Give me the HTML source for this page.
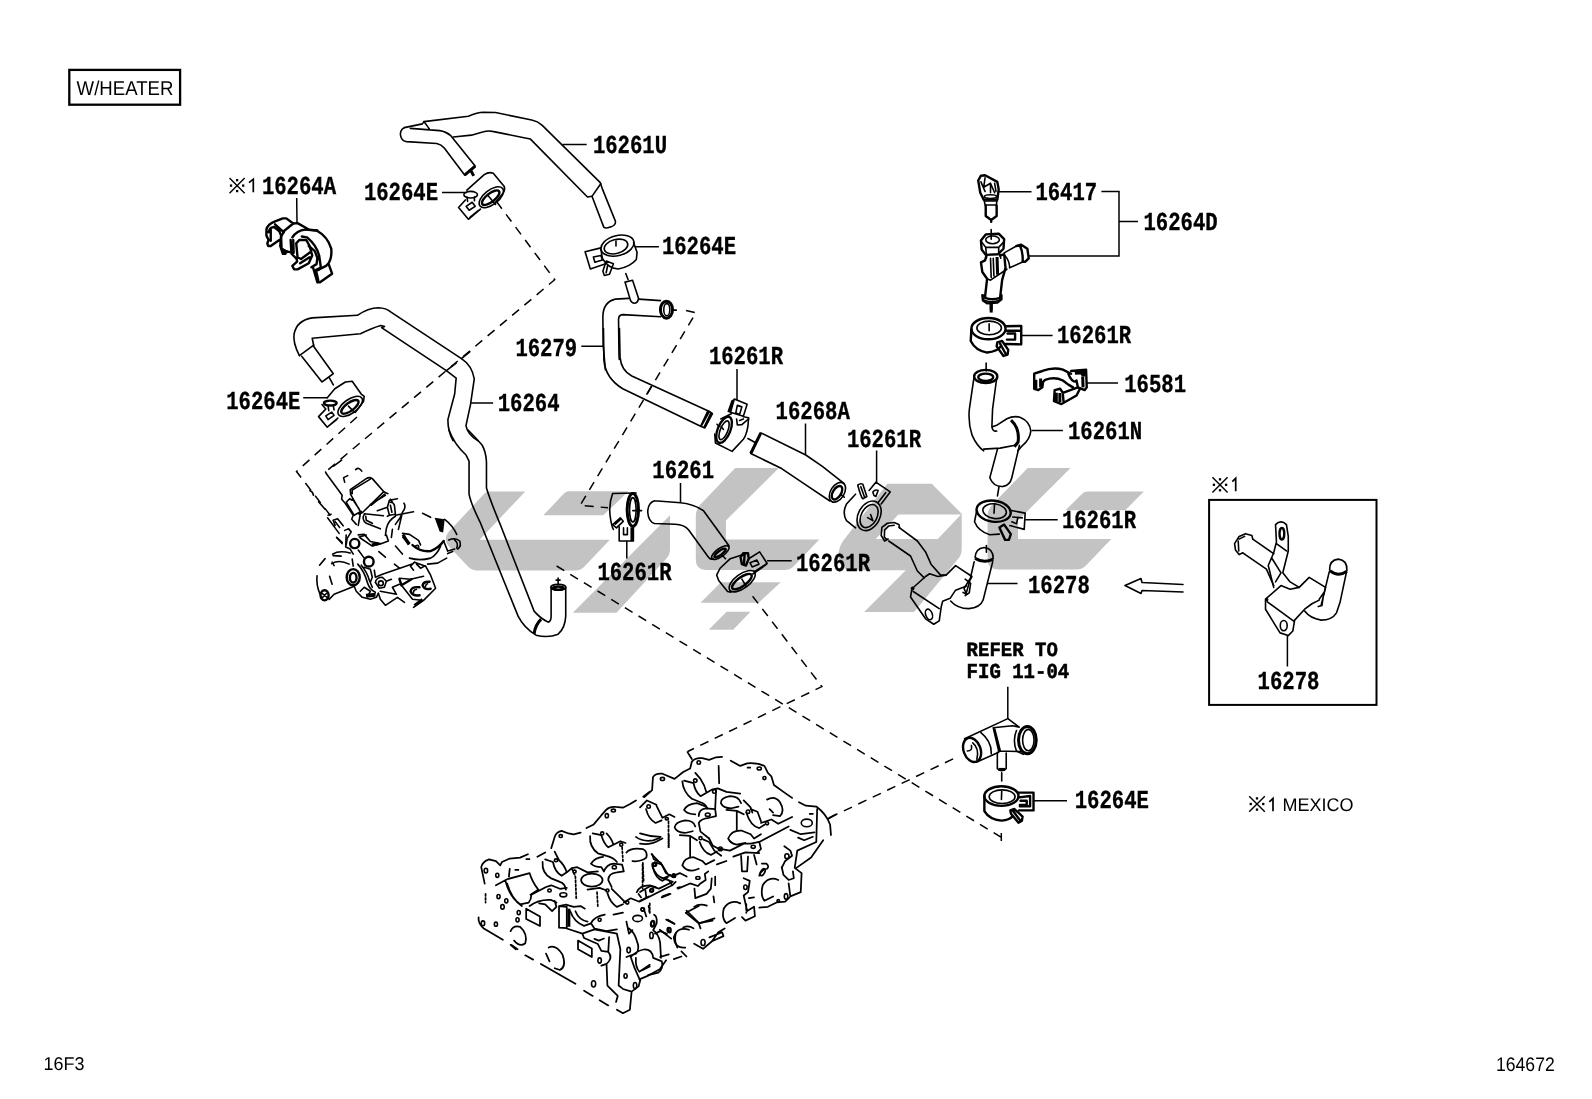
<!DOCTYPE html>
<html>
<head>
<meta charset="utf-8">
<title>16F3 - 164672</title>
<style>
html,body{margin:0;padding:0;background:#fff;}
body{width:1592px;height:1099px;overflow:hidden;font-family:"Liberation Sans",sans-serif;}
svg{display:block;position:absolute;left:0;top:0;will-change:transform;}
svg text{text-rendering:geometricPrecision;}
.wm{fill:#c3c3c3;stroke:none;}
.ln{fill:none;stroke:#000;stroke-width:1.6;stroke-linecap:round;stroke-linejoin:round;}
.lw{fill:#fff;stroke:#000;stroke-width:1.6;stroke-linecap:round;stroke-linejoin:round;}
.th{fill:none;stroke:#000;stroke-width:2.4;stroke-linecap:round;stroke-linejoin:round;}
.ds{fill:none;stroke:#000;stroke-width:1.5;stroke-dasharray:9 7;}
.ld{fill:none;stroke:#000;stroke-width:1.5;}
.ln,.lw,.th,.ds,.ld,.tk{vector-effect:non-scaling-stroke;}
.tk{fill:none;stroke:#000;stroke-width:3;stroke-linecap:butt;stroke-linejoin:round;}
.hd{fill:none;stroke:#000;stroke-width:1.75;stroke-linecap:round;stroke-linejoin:round;vector-effect:non-scaling-stroke;}
.hl{fill:none;stroke:#000;stroke-width:1.6;vector-effect:non-scaling-stroke;}
.pn{font-family:"Liberation Mono",monospace;font-weight:bold;font-size:20.6px;fill:#000;stroke:#000;stroke-width:0.3px;}
.rf{font-family:"Liberation Mono",monospace;font-weight:bold;font-size:19px;fill:#000;stroke:#000;stroke-width:0.5px;}
.ss{font-family:"Liberation Sans",sans-serif;fill:#000;}
</style>
</head>
<body>
<svg width="1592" height="1099" viewBox="0 0 1592 1099">
<rect x="0" y="0" width="1592" height="1099" fill="#fff"/>

<!-- ===== WATERMARK ===== -->
<g class="wm" id="wm">
<!-- shape 1: left chevron with band -->
<path d="M488,491.4 L525.3,491.4 L479.6,539.8 L609.9,539.8 L584,567 Q580.5,570.6 575,570.6 L477,570.6 Q472,570.6 468,566.5 L449.5,547 Q442,539 449.5,531 L484,494 Q486,491.4 488,491.4 Z"/>
<!-- shape 2a: top parallelogram -->
<path d="M569,491.3 L628.5,491.3 L603.3,515.3 L543.3,515.3 L564,493.5 Q566,491.3 569,491.3 Z"/>
<!-- shape 2b: diagonal stroke -->
<path d="M670,515.3 L670,549 Q670,555 666,559 L616.5,612.8 L572.8,612.8 Z"/>
<!-- shape 3 -->
<path d="M735.2,468 L778.8,468 L725.9,520.5 L725.9,539.6 L819.3,539.6 L794,566 Q790,569.9 785,569.9 L706,569.9 Q695.8,569.9 695.8,560 L695.8,516 Q695.8,509.6 700,505 Z"/>
<path d="M721,582.2 L780.8,582.2 L758.6,602.7 L700.5,602.7 Z"/>
<path d="M726.7,611.7 L750.4,611.7 L733.2,629.7 L708.7,629.7 Z"/>
<!-- shape 4: nine -->
<path fill-rule="evenodd" d="M887.3,483.7 L931.7,483.7 L961.7,513.7 L961.7,549 Q961.7,555 958,559 L914,612 L864.1,612 L905.8,570.3 L851,570.3 Q843,570.3 840,563 Q836,552 843,541 Z M898.3,514.4 L961,514.4 L937.8,538.9 L875.7,538.9 Z"/>
<!-- shape 5 -->
<path d="M1027.7,468 L1070.6,468 L1018,520.5 L1018,539.1 L1111.3,539.1 L1086,565.5 Q1082,569.5 1077,569.5 L998,569.5 Q987.6,569.5 987.6,559 L987.6,516 Q987.6,509.4 992,505 Z"/>
<path d="M1087,491.5 L1143.8,491.5 L1125.4,510.2 L1065.6,510.2 L1083,493 Q1084.5,491.5 1087,491.5 Z"/>
</g>

<!-- ===== DASHED LINES ===== -->
<g id="dashes">
<path class="ds" d="M496.5,201.5 L554.7,279.7 L326,471.5"/>
<path class="ds" d="M357,417 L296.5,471.5 L340,528"/>
<path class="ds" d="M686,310.5 L696,312.7 L580,505.5 L608,507.7"/>
<path class="ds" d="M556.6,566 L1001.3,837.4 M1001.3,833 L1001.3,841"/>
<path class="ds" d="M752.6,596.2 L821.9,686.6 L687.7,751.5"/>
<path class="ds" d="M829.4,817.8 L956.1,757.5"/>
</g>

<!-- ===== PARTS ===== -->
<g id="parts">
<!-- Z1: origin (390,105) scale 6.633 : hose 16261U + clamp -->
<g transform="translate(390,105) scale(0.15075)">
<path class="ln" d="M95,150 L215,125 L225,110 L520,75 Q580,48 620,48 L700,50 L940,100 Q980,108 1010,135 L1395,515 L1410,560 L1495,770 Q1500,800 1460,810 Q1430,822 1418,810 L1340,605 L1310,610 L930,225 L680,175 Q650,168 620,178 L540,200 L420,212"/>
<path class="ln" d="M1398,522 L1342,603"/>
<path class="ln" d="M95,150 Q60,170 72,210 Q80,240 110,243 L310,255 Q340,262 360,285 L495,465 L565,405 L405,205 Q370,175 330,170 L135,155 M225,110 L262,160"/>
<path class="tk" d="M495,465 L565,405 M535,432 L555,470"/>
<!-- clamp -->
<path class="ln" d="M510,565 L625,462 Q655,442 685,452 L758,540 Q765,560 750,585 L700,645"/>
<ellipse class="ln" cx="672" cy="612" rx="95" ry="48" transform="rotate(-38 672 612)"/>
<ellipse class="th" cx="668" cy="615" rx="70" ry="28" transform="rotate(-38 668 615)"/>
<path class="ln" d="M500,630 L455,680 L520,758 L600,690 M505,672 L545,645 L565,672 L525,698 Z M530,745 L585,700"/>
<ellipse class="ln" cx="535" cy="595" rx="45" ry="22"/>
<path class="ln" d="M510,610 L515,640 M560,610 L560,635 M650,600 L700,660"/>
</g>
<!-- Z2: origin (570,220) scale 6.633 : clamp 16264E #2 + top of 16279 -->
<g transform="translate(570,220) scale(0.15075)">
<ellipse class="ln" cx="315" cy="170" rx="112" ry="66" transform="rotate(-15 315 170)"/>
<ellipse class="ln" cx="305" cy="176" rx="80" ry="46" transform="rotate(-15 305 176)"/>
<path class="ln" d="M205,195 L215,255 Q250,320 320,325 Q400,310 440,262 L445,215 L422,150 M305,140 L305,172"/>
<path class="ln" d="M205,185 L100,210 L135,325 L232,292 M155,245 L205,235 L215,265 L165,280 Z"/>
<path class="ln" d="M240,272 L288,290 L262,360 L228,368 L218,340 Z M250,300 L240,350"/>
<path class="ln" d="M370,355 L385,395"/>
<path class="ln" d="M365,412 L415,400 L455,520 Q450,552 425,552 Q405,548 400,530 Z"/>
<path class="ln" d="M390,520 L300,525 Q220,545 218,640 L220,830 L235,995 M327,925 L325,900 L322,660 Q322,630 350,628 L600,642 M455,525 L600,535"/>
<ellipse class="tk" cx="640" cy="595" rx="40" ry="56"/>
<ellipse class="ln" cx="642" cy="595" rx="20" ry="40"/>
<path class="ln" d="M680,598 L705,598"/>
</g>
<!-- Z3: origin (570,330) : lower 16279 + clamp 16261R + start 16268A -->
<g transform="translate(570,330) scale(0.15075)">
<path class="ln" d="M222,-10 L225,200 Q235,320 350,390 L870,640 M328,-10 L332,180 Q340,270 410,305 L925,540 L945,555 L895,650 L870,640 M925,540 L870,640 M912,542 L868,636 M935,550 L888,648 M540,375 L510,425"/>
<ellipse class="th" cx="1022" cy="662" rx="42" ry="92" transform="rotate(22 1022 662)"/>
<ellipse class="ln" cx="1022" cy="665" rx="25" ry="66" transform="rotate(22 1022 665)"/>
<path class="ln" d="M1000,590 L1070,555 M1150,575 L1185,582 L1180,640 Q1170,700 1150,725 L1075,805 L965,750 L960,690"/>
<path class="ln" d="M1090,458 L1175,492 L1150,572 L1065,545 Z M1110,500 L1140,510 L1125,560 L1100,550 Z M1075,470 L1050,540 M1083,464 L1058,543"/>
<path class="ln" d="M1105,590 L1110,630 L1140,628 L1185,590 M1125,600 L1150,590"/>
<path class="ln" d="M1180,720 L1225,745"/>
<path class="ln" d="M1002,640 L1018,660 M975,625 L990,640"/>
</g>
<!-- Z4: origin (750,400) : hose 16268A + clamp 16261R -->
<g transform="translate(750,400) scale(0.15075)">
<path class="ln" d="M72,218 L370,365 L480,440 L625,555 M5,355 L210,455 L380,570 L530,670"/>
<path class="tk" d="M72,218 L5,355"/>
<ellipse class="ln" cx="580" cy="612" rx="45" ry="72" transform="rotate(32 580 612)"/>
<ellipse class="th" cx="577" cy="615" rx="27" ry="50" transform="rotate(32 577 615)"/>
<path class="ln" d="M600,625 L625,645"/>
<ellipse class="ln" cx="790" cy="768" rx="72" ry="104" transform="rotate(28 790 768)"/>
<ellipse class="ln" cx="790" cy="770" rx="52" ry="82" transform="rotate(28 790 770)"/>
<path class="ln" d="M700,625 L640,690 Q610,750 640,800 L700,848 M780,780 L815,800 M800,760 L815,800"/>
<path class="ln" d="M790,600 L835,545 L930,610 L870,690 M815,610 Q830,590 850,600 L835,640 Q820,640 815,610 M900,615 L850,680"/>
<path class="ln" d="M715,565 Q730,550 748,558 L775,640 L748,655 Q735,640 715,565 Z M735,575 L760,645"/>
</g>
<!-- Z5: origin (270,290) s6.633 : upper 16264 hose + clamp 16264E left -->
<g transform="translate(270,290) scale(0.15075)">
<path class="ln" d="M195,435 Q150,350 160,290 Q180,200 280,185 L580,168 Q650,120 720,118 Q770,120 800,145 L1270,455 Q1340,500 1355,590 L1330,760 L1300,900 Q1310,960 1380,1000"/>
<path class="ln" d="M290,370 L280,320 L600,290 Q680,250 735,235 L760,242 L740,250 L1170,535 L1235,585 L1225,690 L1180,860 Q1180,940 1215,1000"/>
<path class="ln" d="M195,435 L290,365 M210,440 L345,610 L420,555 L290,375 M355,603 L412,562 M395,585 L420,630"/>
<path class="ln" d="M1270,455 L1325,410 M1170,535 L1235,485"/>
<path class="ln" d="M380,715 L430,655 L500,610 L545,605 L605,690 L625,705 L620,740 L565,812"/>
<ellipse class="ln" cx="532" cy="772" rx="95" ry="46" transform="rotate(-36 532 772)"/>
<ellipse class="th" cx="530" cy="775" rx="68" ry="27" transform="rotate(-36 530 775)"/>
<ellipse class="th" cx="400" cy="750" rx="42" ry="16"/>
<path class="ln" d="M385,768 L390,800 M420,768 L425,795 M345,760 L370,790 M365,795 L322,840 L380,910 L450,850 M370,835 L410,810 L425,832 L385,860 Z M392,900 L442,860 M520,770 L560,810"/>
</g>
<!-- Z6: origin (400,430) s4.996 : lower 16264 hose -->
<g transform="translate(400,430) scale(0.20016)">
<path class="ln" d="M245,0 Q270,70 330,125 L345,155 L345,320 Q355,370 400,460 L590,930 Q620,990 680,1025 Q740,1040 790,1020 Q825,990 828,930 L828,785"/>
<path class="ln" d="M340,0 Q380,40 410,75 Q430,110 432,160 L432,290 Q450,350 500,470 L670,905 Q700,940 740,960 Q755,955 755,930 L755,785"/>
<ellipse class="ln" cx="791" cy="785" rx="37" ry="14"/>
<ellipse class="th" cx="791" cy="790" rx="26" ry="8"/>
<path class="tk" d="M705,945 Q675,975 670,1018"/>
<path class="ln" d="M790,740 L790,772 M780,750 L800,750"/>
</g>
<!-- Z6b: origin (540,470) s9.156 : clamp 16261R left-mid -->
<g transform="translate(540,470) scale(0.10922)">
<path class="ln" d="M880,210 L665,215 Q625,320 645,440 Q655,510 672,545"/>
<ellipse class="tk" cx="850" cy="365" rx="52" ry="150"/>
<ellipse class="ln" cx="850" cy="365" rx="30" ry="112"/>
<path class="ln" d="M850,372 L930,372 M665,500 L735,438 L762,470 L700,530 Z M690,495 L735,455"/>
<path class="ln" d="M725,520 L725,650 L855,650 L855,520 M765,530 L765,592 L800,592 L800,530"/>
<path d="M828,525 L858,525 L858,652 L828,652 Z" fill="#000"/>
</g>
<!-- P1: origin (310,455) s9.95 : pump top -->
<g transform="translate(310,455) scale(0.1005)">
<path class="ln" d="M155,170 L165,190 L320,400 L315,440 L350,480 L430,600 L415,640 L460,690"/>
<path class="ln" d="M235,110 L315,52 M455,145 Q485,115 515,160 M335,225 L375,205 M335,230 L345,270 M85,465 L150,540 M0,355 Q25,360 35,400"/>
<path class="ln" d="M405,395 L400,345 L560,235 Q590,215 620,235 L735,365 L775,385 M420,385 L420,350 L600,240 M735,365 L525,570 L490,590 M745,390 L610,500 M750,402 L600,492 M405,395 L500,560 M395,435 L360,470 L440,600 L510,560 M425,440 L490,540 M395,435 L420,450"/>
<path class="ln" d="M500,590 L480,700 M540,590 Q510,640 560,680 L700,735 M555,610 L560,650 L620,680 M540,585 L730,605"/>
<path class="ln" d="M670,555 L770,520 L790,450 L870,435 M800,440 L820,470 M770,520 L790,600 L850,590 L840,500 Q830,470 800,470 M790,600 L770,610 M800,500 L815,570"/>
<path class="ln" d="M935,480 Q960,520 920,570 L880,740 M850,600 L1030,565 M920,570 L900,620 L850,690 M760,730 Q780,650 850,610 M750,800 L760,730 M820,740 L810,820 M1120,580 L1200,620 M1340,640 Q1420,700 1460,790"/>
<path d="M1240,625 L1340,640 L1325,772 L1290,762 Z" fill="#000"/>
<path class="ln" d="M180,600 L210,590 M175,625 L290,780 M230,650 L275,635 L330,705 M230,650 L250,700 M345,750 L385,735 L410,765 L370,830 L360,895 M265,820 L320,870"/>
<path class="ln" d="M480,795 L540,790 L600,860 M600,860 L700,880 M920,780 L990,790 L1080,850 L1100,895"/>
<path class="tk" d="M925,792 L985,890"/>
</g>
<!-- P2: origin (310,535) s9.95 : pump bottom -->
<g transform="translate(310,535) scale(0.1005)">
<circle class="th" cx="445" cy="85" r="46"/>
<path class="ln" d="M360,0 L355,120 L400,140 M490,20 L560,0 M500,30 L620,110 L700,90 L780,60 L760,0 M265,25 L320,85 M400,140 L430,190 M480,150 L540,230"/>
<path class="tk" d="M615,100 L680,85"/>
<circle class="th" cx="585" cy="265" r="48"/>
<path class="ln" d="M225,190 Q290,150 400,180 M230,205 L310,210 M215,285 Q290,240 390,290 M220,270 L240,305 M95,300 L150,235 M420,240 L430,310 M70,405 Q60,500 100,590 M195,410 L220,490"/>
<ellipse class="th" cx="430" cy="420" rx="65" ry="80"/>
<ellipse class="th" cx="430" cy="425" rx="33" ry="48"/>
<ellipse class="th" cx="145" cy="600" rx="40" ry="50"/>
<path class="ln" d="M120,580 L170,620 M125,620 L165,580 M190,640 L240,590 L440,510"/>
<path class="ln" d="M475,290 Q540,360 570,470 Q590,540 650,570 M510,300 Q570,370 590,450 L620,520 M540,320 L600,340 L620,420 L600,470 M640,350 L650,420 L720,390 L1010,290"/>
<path class="ln" d="M650,470 Q660,420 720,420 L760,460 L740,520 L690,530 Z M760,460 L810,440"/>
<circle class="ln" cx="705" cy="480" r="24"/>
<path class="ln" d="M440,510 L460,560 L520,620 L600,640 L660,620 L680,580 M500,560 L540,520 L600,560 L580,600"/>
<path d="M555,585 L655,575 L650,615 L560,625 Z" fill="#000"/>
<path class="ln" d="M680,580 L700,640 L750,700 L870,620 L940,670 M700,560 L860,590 L820,520 L890,490 M890,430 L1000,440 L1130,410"/>
<path class="th" d="M890,440 L910,500 L1010,440"/>
<path class="ln" d="M910,500 L1020,640 L1110,650 M1030,720 L1130,650 L1250,530 L1200,400 L1150,310"/>
<path class="tk" d="M1040,702 L1120,642"/>
<path class="th" d="M1090,520 Q1010,510 1000,560 Q1020,610 1090,600 M1190,465 Q1130,460 1120,500 Q1140,550 1200,535"/>
<path class="ln" d="M1060,540 Q1030,545 1030,570 M1170,485 Q1150,490 1150,510"/>
<path class="tk" d="M925,12 L990,90"/>
<path class="th" d="M1020,100 Q1100,170 1200,160 Q1280,130 1330,60"/>
<path class="ln" d="M1050,110 Q1090,90 1080,130 M990,230 Q1100,260 1200,230 Q1260,200 1300,110"/>
<path class="ln" d="M1330,60 L1370,160 L1440,140 M1380,50 Q1450,20 1490,60 Q1510,110 1470,140 M1440,50 Q1480,80 1460,130 M1370,185 L1420,165"/>
<path class="ln" d="M1150,310 L1040,270 L1000,310 L1030,350 M1060,290 L1100,330 L1140,310 M1170,290 L1270,280 L1360,230 M850,110 L920,190 M685,165 L750,220 M840,290 L890,330"/>
</g>
<!-- Z8: origin (940,160) s7.325 : 16417 + 16264D -->
<g transform="translate(940,160) scale(0.13652)">
<path class="th" d="M280,150 L300,115 L330,112 L420,160 L430,215 L420,290 L320,290 L295,240 Z"/>
<path class="ln" d="M330,130 L320,200 L370,170 L400,240 M370,170 L370,240 M300,160 L330,230 M400,170 L410,230 M325,300 L420,300 M330,330 L415,330 M322,292 L332,335 M418,292 L412,335"/>
<ellipse class="ln" cx="370" cy="268" rx="45" ry="14"/>
<path class="th" d="M335,335 L335,410 L375,440 L415,410 L415,335 M375,440 L375,452"/>
<path class="ln" d="M375,510 L375,580"/>
<path class="th" d="M300,590 L335,545 L430,540 L470,580 L465,650 L425,690 L335,695 L305,655 Z"/>
<ellipse class="ln" cx="385" cy="585" rx="50" ry="28"/>
<path class="ln" d="M335,640 L340,695 M430,640 L430,690 M305,600 L335,640 L430,640 L468,600 M340,695 L340,720 M440,690 L445,720"/>
<path class="th" d="M340,700 L330,735 L300,750 L310,820 L345,870 L330,1000 M440,700 L470,690 L480,790 L455,880 L440,1010"/>
<path class="ln" d="M370,720 L375,860 M345,870 L370,880 L490,800 M390,720 L395,850"/>
<path class="tk" d="M418,710 L422,840"/>
<path class="ln" d="M470,680 L560,630 M510,790 L610,745 M475,700 Q510,740 510,790"/>
<path class="th" d="M560,630 L595,620 L640,650 L650,720 L625,745 L610,745 M585,625 Q610,680 605,745"/>
<path class="th" d="M330,1000 L310,990 L315,1030 L345,1050 L420,1045 L450,1020 L450,990 L440,1010 M330,1010 Q380,1030 440,1010"/>
<path class="tk" d="M375,1050 L375,1100"/>
</g>
<!-- Z9: origin (940,300) s7.325 : clamp 16261R + 16261N top + 16581 -->
<g transform="translate(940,300) scale(0.13652)">
<path class="tk" d="M375,15 L375,92"/>
<path class="ln" d="M320,0 Q375,25 440,0"/>
<ellipse class="th" cx="355" cy="210" rx="125" ry="78"/>
<ellipse class="ln" cx="360" cy="205" rx="90" ry="50"/>
<path class="ln" d="M360,175 L360,225"/>
<path class="th" d="M230,215 L225,300 Q260,370 345,385 Q420,375 440,345"/>
<path class="th" d="M485,192 L595,190 L595,325 L480,322 M490,225 L580,225 M495,245 L550,245 L550,290 L490,290"/>
<path class="th" d="M420,310 L455,300 L500,365 L495,400 L465,410 L415,340 Z M440,320 L480,392"/>
<path class="ln" d="M338,462 L338,520"/>
<ellipse class="th" cx="335" cy="560" rx="85" ry="48"/>
<ellipse class="th" cx="335" cy="566" rx="55" ry="27"/>
<path class="ln" d="M250,560 L215,800 Q205,900 235,990 Q270,1070 320,1105 M415,575 L385,800 L380,930 Q385,965 415,960 M380,930 L420,915 L490,870 Q540,845 590,860 Q660,890 665,960 Q660,1020 600,1070 L570,1105"/>
<path class="tk" d="M520,880 Q585,940 572,1040 L545,1075"/>
<path class="ln" d="M320,1092 L440,1085 L560,1062"/>
<!-- 16581 -->
<path class="th" d="M690,540 L750,520 Q830,490 900,510 L960,540 M690,540 L690,650 L720,660 L750,640 L755,600 L770,585 Q840,560 900,590 L940,620 L975,640"/>
<path class="tk" d="M702,585 L702,650 M737,575 L737,640"/>
<path class="th" d="M960,520 L1070,510 L1075,640 L1060,660 L1010,640 L1000,590 M940,540 Q960,600 1000,600"/>
<path d="M985,518 L1065,512 L1066,560 L1040,560 L1030,545 L990,548 Z" fill="#000"/>
<path class="tk" d="M1045,560 L1048,640"/>
<path class="th" d="M840,660 L835,740 L890,762 L1000,700 L1025,650 M840,660 L880,650 L900,680 L1010,640 M900,690 L905,742"/>
<path class="tk" d="M852,680 L852,742 M878,682 L878,748"/>
</g>
<!-- Z10: origin (900,430) s5.233 : 16261N bottom + clamp 16261R + 16278 right tube -->
<g transform="translate(900,430) scale(0.19109)">
<path class="ln" d="M510,100 L470,250 Q490,300 540,295 Q575,290 585,250 L625,80 M518,298 L510,345"/>
<ellipse class="th" cx="490" cy="425" rx="90" ry="55" transform="rotate(8 490 425)"/>
<ellipse class="ln" cx="495" cy="425" rx="62" ry="38" transform="rotate(8 495 425)"/>
<path class="ln" d="M495,385 L492,435"/>
<path class="ln" d="M400,430 L390,480 Q410,530 470,548 L520,545"/>
<path class="ln" d="M575,420 L655,435 L650,520 L575,500 M590,455 L640,460 M585,480 L610,490 L615,465"/>
<path class="th" d="M520,510 L545,495 L580,545 L570,575 L550,575 Z"/>
<path class="ln" d="M452,605 L452,640"/>
<path class="ln" d="M393,668 Q395,620 440,615 Q488,620 488,672"/>
<path class="tk" d="M393,672 Q440,700 488,676"/>
<path class="ln" d="M388,690 L365,790 L345,860 M485,690 L455,810 L435,890 Q420,930 360,935 Q300,935 265,895 M365,780 L335,830 L350,860 L330,850"/>
</g>
<!-- Z11: origin (830,470) s7.325 : 16278 left tube + bracket -->
<g transform="translate(830,470) scale(0.13652)">
<path class="ln" d="M380,420 L420,390 L470,385 L505,400 L510,425 M380,420 L375,480 L400,520 L425,505 M400,440 L430,410 L470,405 M400,440 L398,490 L415,510"/>
<path class="ln" d="M505,420 L640,520 L700,600 L740,690 L810,770 L850,770 M430,520 L590,630 L640,740 L690,790"/>
<circle cx="605" cy="868" r="14" fill="#000"/>
<path class="ln" d="M600,870 L700,780 L730,760 L790,780 L850,770 L920,700 L1040,780 L1030,800 M600,870 L590,930 L700,1090 L760,1130 L800,1105 L815,1000 L825,962 L880,940 L920,880 L1000,850 M610,890 L800,1015 M990,800 L1030,830 L1020,900 L990,920"/>
<ellipse class="ln" cx="725" cy="1058" rx="24" ry="40" transform="rotate(-20 725 1058)"/>
</g>
<!-- Z12: origin (250,195) s11.57 : clip 16264A -->
<g transform="translate(250,195) scale(0.08643)">
<path class="th" d="M190,400 Q200,340 290,305 L380,270 L420,270 L500,330 L390,420 M290,340 L380,420 L390,430 M190,400 L190,470 L215,520 L200,560 L210,590 L240,590 L340,520 M215,430 Q230,370 280,370 L340,420 L360,470 L350,590 L380,680 L410,680 M240,400 L240,530"/>
<path class="th" d="M500,330 L550,325 L680,400 L780,410 M390,430 L360,480 L365,620 L380,640 L460,660"/>
<path d="M365,605 L462,660 L385,695 Z" fill="#000"/>
<path class="th" d="M490,490 Q540,410 640,400 M470,520 L480,680 L540,740 L545,770 L490,820 L510,860 L550,860 L680,790 L720,700 L690,590 L650,520 L570,520 L535,560 L550,720 L590,740 L700,660 M500,520 L505,670 M580,790 L690,720"/>
<path class="th" d="M640,400 L770,410 Q900,480 940,620 Q950,740 900,800 L880,820 L800,860 M600,480 L660,490 Q770,580 800,700 L820,840 L760,870 M680,590 L750,650 L780,730 L770,800 L710,835"/>
<path class="th" d="M730,840 L780,1010 L810,1010 L950,910 L910,800 M760,880 L800,860 M790,990 L770,900"/>
</g>
<!-- Z13: origin (630,470) s7.328 : hose 16261 + clamp 16261R lower -->
<g transform="translate(630,470) scale(0.13646)">
<path class="ln" d="M180,225 Q130,240 130,310 Q135,380 180,392 L330,398 Q400,400 430,440 L575,640 Q590,660 610,650 M180,225 L370,240 Q470,250 540,300 L725,555"/>
<ellipse class="ln" cx="662" cy="605" rx="76" ry="30" transform="rotate(-36 662 605)"/>
<ellipse class="th" cx="660" cy="608" rx="50" ry="15" transform="rotate(-36 660 608)"/>
<path class="ln" d="M675,625 L700,650"/>
<path class="ln" d="M830,620 L735,650 L660,720 L635,770 L650,810 L715,890 L740,895"/>
<ellipse class="ln" cx="822" cy="815" rx="112" ry="52" transform="rotate(-36 822 815)"/>
<ellipse class="th" cx="820" cy="818" rx="86" ry="32" transform="rotate(-36 820 818)"/>
<path class="th" d="M810,640 L830,610 L865,610 L870,650 L850,700 L820,690 Z M840,620 L835,690"/>
<path class="ln" d="M870,650 L950,600 L1005,685 L920,740 L905,740 M880,680 L930,660 L945,690 L895,710 Z M1000,692 L900,762 M820,800 L850,850"/>
</g>
<!-- Z14: origin (940,680) s7.325 : refer fitting + clamp 16264E bottom -->
<g transform="translate(940,680) scale(0.13652)">
<path class="ln" d="M180,430 L497,283 L580,345 M270,600 L430,530 M390,350 L530,335 L580,345 M390,350 L430,520 L600,525 M400,355 L442,520 M300,385 Q380,450 375,540"/>
<ellipse class="th" cx="235" cy="512" rx="62" ry="92" transform="rotate(-20 235 512)"/>
<path class="ln" d="M200,520 Q240,520 230,480 M240,460 Q290,500 270,580"/>
<ellipse class="tk" cx="640" cy="440" rx="65" ry="100"/>
<ellipse class="ln" cx="647" cy="440" rx="42" ry="78"/>
<path class="ln" d="M560,370 Q530,440 560,520 L610,545"/>
<path class="ln" d="M420,530 L420,650 Q450,680 485,650 L485,535 M452,680 L452,740"/>
<path class="tk" d="M428,655 L478,655"/>
<ellipse class="th" cx="450" cy="850" rx="125" ry="72"/>
<ellipse class="ln" cx="455" cy="855" rx="95" ry="50"/>
<path class="ln" d="M452,815 L450,875"/>
<path class="th" d="M325,850 L325,960 Q360,1020 450,1030 Q510,1025 530,1000"/>
<path class="th" d="M575,825 L685,825 L685,955 L580,955 M580,860 L660,850 L660,925 L585,925 M590,885 L635,885 L635,915 L585,915"/>
<path class="th" d="M515,955 L545,945 L605,1000 L600,1030 L575,1045 L520,980 Z M535,960 L590,1032"/>
</g>
<!-- Z15: origin (1210,500) s5.494 : boxed 16278 -->
<g transform="translate(1210,500) scale(0.18202)">
<path class="ln" d="M135,240 L160,200 L195,185 L230,195 L235,215 M135,240 L140,275 L160,300 L180,290 M160,215 L190,200 M155,225 L158,280"/>
<path class="ln" d="M235,215 L350,295 M180,290 L310,380 L350,470"/>
<path class="ln" d="M360,135 Q390,105 420,135 L430,200 L430,280 L400,400 L440,450 L490,480 M360,135 L365,230 L350,290 L320,360 L350,480 M365,240 L420,280 M340,320 L390,400 L360,450"/>
<ellipse class="th" cx="395" cy="185" rx="13" ry="32"/>
<path class="ln" d="M305,545 L390,470 L440,490 L490,480 L545,425 L635,480 L625,520 M305,545 L305,600 L360,690 L385,730 L430,745 L455,720 L465,660 L520,600 L560,570 L600,550 M315,560 L460,665"/>
<circle cx="312" cy="548" r="9" fill="#000"/>
<ellipse class="ln" cx="405" cy="690" rx="19" ry="28"/>
<path class="ln" d="M657,385 Q655,330 705,325 Q755,330 752,388"/>
<path class="tk" d="M658,388 Q705,425 752,392"/>
<path class="ln" d="M655,395 L625,520 L610,580 M750,395 L715,560 L695,620 Q670,660 610,660 Q550,650 520,610 M600,545 L625,510 L615,580 L595,585"/>
</g>
<!-- arrow -->
<path class="ln" d="M1125,585.5 L1141,578.5 L1142,582.5 L1183,584.5 M1125,585.5 L1141,593.5 L1142,590.5 L1183,592"/>
<!-- HA: origin (470,830) s5.786 : cylinder head left -->
<g transform="translate(470,830) scale(0.17283)">
<path class="hd" d="M85,310 L65,215 Q70,185 110,170 L150,180 L175,205 L185,185 L230,165 L290,160 L335,140 M390,155 L435,130 M470,105 L490,40 Q500,10 530,5 L570,20 L600,25 L640,15"/>
<path class="hd" d="M50,505 Q45,540 80,570 L190,635 M240,665 L275,690 M320,725 L365,750 M410,775 L610,890 M660,930 L710,960 M750,985 L800,1015 M850,1040 L885,1060 L925,1040 L935,935 L885,920 M935,935 L975,905 L985,870"/>
<path class="hd" stroke-dasharray="2 2" d="M90,370 L90,420 M590,225 L610,270 L615,400 M735,360 L740,450 M1000,190 L1005,300 M1150,30 L1150,100 M1040,425 L1040,480 M880,100 L885,180"/>
<path d="M322,164 h26 v9 h-26 Z M258,225 h26 v11 h-26 Z" fill="#000"/>
<path class="hd" d="M230,225 L225,270 M150,320 L215,285 L345,250 Q360,300 395,345 L350,375 M205,295 Q230,390 290,430 L340,420 Q355,400 355,375 M215,310 Q240,400 300,440 M345,440 Q400,400 470,405 L500,420 M355,375 L440,330 L470,320 L520,340 L560,335 M400,425 L435,430 L475,470 L500,445 L490,410"/>
<path class="hd" d="M515,440 L515,565 L560,568 L560,445 Z M580,470 Q600,530 660,555 L700,540 Q720,500 780,490 M610,470 Q630,520 680,530 M515,440 L555,432 L600,445 L640,440 L665,455 M560,570 L650,600 L660,625 L740,660 L760,700 L800,705 L805,620 M650,600 L720,575 L850,600 L870,690 L860,900 L880,915 M720,630 L745,640 L775,628 M800,705 Q830,740 790,775 L760,785 M790,775 L795,900 L855,960 L845,995"/>
<path class="tk" d="M572,455 L572,560"/>
<path class="hd" d="M325,455 L405,500 L405,555 L325,515 Z M625,640 L705,685 L705,735 L625,690 Z M235,585 Q250,550 290,560 Q335,600 320,655 Q290,680 255,640 M235,665 L265,690 M455,680 Q495,660 535,720 Q560,790 520,810 L490,800 M440,715 L460,760"/>
<path class="hd" d="M420,185 Q415,250 470,280 L520,300 Q550,310 555,345 M435,170 L480,185 Q490,240 530,265 L560,245 Q545,200 515,175 L490,125 M560,245 L590,220 L620,215 L680,245 L740,240"/>
<ellipse class="hd" cx="705" cy="290" rx="62" ry="38"/>
<path class="hd" d="M680,345 L750,335 L790,350 M695,35 Q690,100 740,135 L790,150 Q830,160 850,185 M710,20 L760,30 Q775,80 800,100 L830,85 Q820,50 790,20 M700,195 Q720,160 770,155 M700,195 Q720,215 760,215 L775,240 M775,240 Q790,200 830,195 L880,200 L890,240 L850,245 Q800,250 800,290 L820,330 M830,85 L870,65 L900,75"/>
<path class="hd" d="M905,130 Q930,100 1000,110 Q1030,125 1020,160 Q990,185 940,180 M960,40 Q1000,70 1060,60 L1100,45 M1050,140 L1090,180 M1055,210 Q1075,270 1120,280 L1160,260 M1070,185 L1110,200 L1140,250 M795,365 Q810,420 850,445 L885,430 M820,340 L860,380 L900,420 M965,360 Q980,320 1040,320 L1075,330 M975,370 L990,390 M1015,350 L1020,390 M890,420 L930,395 L980,415 L1170,320 L1150,290 M1170,320 L1190,300 M1110,390 L1160,370 M1200,335 L1215,330 M830,490 L885,478 M700,540 L720,570 L790,585 L850,575"/>
<path class="hd" d="M905,530 L920,600 L940,580 M920,570 Q950,590 965,640 Q985,690 960,715 L905,735 M1010,470 L1020,500 M1065,490 Q1085,500 1080,540 L1060,580 Q1090,600 1100,650 L1105,740 M1070,600 L1100,585 L1140,600 M1140,520 L1170,535 M930,735 Q960,700 1010,690 Q1055,690 1060,740 M930,735 Q950,800 975,850 L985,870 M960,740 Q955,790 980,820 L1040,780 M1060,740 L1110,760 Q1120,800 1090,825 L1030,840 M1000,810 L1040,790 M1100,735 L1150,720 M1190,600 Q1180,640 1200,680"/>
<ellipse class="hl" cx="92" cy="235" rx="10" ry="14"/>
<ellipse class="hl" cx="158" cy="262" rx="9" ry="12"/>
<ellipse class="hl" cx="165" cy="385" rx="9" ry="12"/>
<ellipse class="hl" cx="210" cy="410" rx="9" ry="12"/>
<ellipse class="hl" cx="188" cy="445" rx="10" ry="13"/>
<ellipse class="hl" cx="282" cy="478" rx="9" ry="12"/>
<ellipse class="hl" cx="275" cy="520" rx="9" ry="12"/>
<ellipse class="hl" cx="150" cy="545" rx="9" ry="12"/>
<ellipse class="hl" cx="75" cy="540" rx="10" ry="14"/>
<ellipse class="hl" cx="525" cy="35" rx="10" ry="8"/>
<ellipse class="hl" cx="498" cy="175" rx="10" ry="8"/>
<ellipse class="hl" cx="605" cy="240" rx="9" ry="8"/>
<ellipse class="hl" cx="460" cy="350" rx="10" ry="9"/>
<ellipse class="hl" cx="540" cy="375" rx="20" ry="12"/>
<ellipse class="hl" cx="835" cy="215" rx="12" ry="10"/>
<circle class="hl" cx="765" cy="20" r="9"/>
<circle class="hl" cx="875" cy="85" r="9"/>
<circle class="hl" cx="1070" cy="200" r="10"/>
<circle class="hl" cx="1180" cy="265" r="10"/>
<circle class="hl" cx="1050" cy="350" r="10"/>
<circle class="hl" cx="795" cy="350" r="9"/>
<circle class="hl" cx="910" cy="420" r="9"/>
<circle class="hl" cx="750" cy="520" r="9"/>
<circle class="hl" cx="1000" cy="460" r="10"/>
<ellipse class="hl" cx="970" cy="512" rx="28" ry="18"/>
<ellipse class="hl" cx="1055" cy="545" rx="10" ry="16"/>
<ellipse class="hl" cx="1050" cy="610" rx="10" ry="18"/>
<ellipse class="hl" cx="1155" cy="580" rx="8" ry="14"/>
<ellipse class="hl" cx="918" cy="695" rx="10" ry="16"/>
<ellipse class="hl" cx="750" cy="755" rx="10" ry="15"/>
<ellipse class="hl" cx="900" cy="845" rx="9" ry="13"/>
<ellipse class="hl" cx="955" cy="900" rx="10" ry="18"/>
<ellipse class="hl" cx="715" cy="890" rx="12" ry="18"/>
</g>
<!-- HB: origin (640,740) s5.786 : cylinder head right -->
<g transform="translate(640,740) scale(0.17283)">
<path class="hd" d="M25,330 L70,290 L75,215 Q90,190 130,195 L200,225 L250,185 L290,165 L300,125 Q320,100 360,105 L400,115 L440,100 L475,98 M275,70 L300,110 M525,120 L580,150 L620,135 Q680,130 720,150 L740,190 L760,210 L775,260 L830,300 L880,335 M920,360 L960,380 L1020,385 Q1080,430 1100,490 L1105,550 M1090,455 L1135,430 M1025,400 L1020,590 L910,640 L895,740 L935,770 L930,880 L870,905 L860,830 M1060,580 L990,680 L905,740"/>
<path d="M978,422 h26 v10 h-26 Z M618,155 h24 v10 h-24 Z" fill="#000"/>
<path class="hd" d="M455,150 L458,250 M245,240 Q250,300 300,340 L350,360 Q380,370 390,395 M255,235 L310,250 Q320,300 350,325 L385,305 Q375,260 350,225 L320,190 M385,305 L420,285 L450,280 L500,300 L580,310 M440,290 L435,400"/>
<path class="hd" d="M585,365 Q570,325 520,325 Q465,335 468,365 Q480,395 530,395 L570,385"/>
<path class="hd" d="M500,405 L560,410 L600,430 M560,415 L560,520 M255,405 Q270,370 330,365 L380,385 M255,405 Q275,430 320,430 M340,440 Q340,400 380,395 L435,400 L440,440 L400,450 Q350,455 340,480 L350,530 L400,570 M600,350 L640,390 L650,420 M615,420 Q640,500 690,510 L720,490 M640,400 L680,415 L700,470 M735,345 Q780,320 810,360 Q840,410 810,440 L770,435 M750,400 L770,420 M700,480 L760,460 L800,485 L880,445 M690,590 L860,500 M870,520 L930,545 L1010,535 M915,565 L950,580 L1000,560"/>
<path class="hd" d="M510,570 Q530,520 590,525 L640,545 M510,570 Q525,600 560,605 L610,595 M640,545 L660,570 L700,545 M400,570 L420,610 L465,635 M465,630 L520,640 L600,600 L640,600 L690,590 L700,630 L680,650 M540,675 L610,650 L690,655 M585,670 L590,760 L620,760 L625,675 M660,665 L675,720"/>
<path class="hd" d="M0,390 L40,350 L95,375 M35,400 Q50,460 90,480 L125,465 M95,380 L130,450 L170,430 L200,445 M230,550 L290,555 L330,580 M290,560 L290,680 M345,590 Q365,650 410,665 L445,645 M365,575 L400,590 L430,640 L470,670 M0,540 Q60,560 120,560 M0,600 Q60,610 110,580 L130,570"/>
<path class="hd" d="M320,500 Q310,465 260,465 Q205,475 200,505 Q210,535 260,538 L305,528"/>
<path class="hd" stroke-dasharray="2 2" d="M165,470 L165,620 M15,720 L15,860 M615,950 L615,1000 M50,960 L55,1000"/>
<path class="hd" d="M245,725 Q255,680 310,678 L360,700 M245,725 Q265,760 310,755 L340,745 M360,700 L380,720 L430,695 M445,720 L500,700 M220,860 L290,830 L335,845 L350,830 L380,810 L375,775 L395,760 M70,660 L80,690 L120,710 M75,740 Q90,800 130,815 L160,795 M120,710 L150,770 L185,790 L230,770 L270,790 M0,880 L60,845 L110,860 L190,820 L130,800 M130,905 L170,890 M0,930 L50,905 M315,860 L320,915 L385,890 L410,860 L415,800 M435,790 L435,840 M425,905 L430,940"/>
<path class="hd" d="M265,1000 L340,960 M265,1000 L340,1060 L420,1045 M340,1060 L350,1090 M160,1040 L200,1065 M250,1085 Q280,1070 310,1090 M580,945 Q520,920 485,975 Q470,1030 500,1060 L550,1030 M800,810 Q745,785 710,840 Q695,900 720,930 L770,905 M690,785 Q700,750 735,745 Q750,730 730,715 L705,715"/>
<ellipse class="hd" cx="710" cy="765" rx="11" ry="22" transform="rotate(30 710 765)"/>
<path class="hd" d="M600,800 L635,815 L625,880 L600,900 L620,990 L660,965 L665,1020 L610,1045 L590,1025 M630,915 L660,910 M690,970 L740,965 L790,940 L840,935 L865,910 M820,735 L830,780 L860,810 L890,800 L885,760 M835,615 L870,640 L880,670 L840,700 L820,740"/>
<ellipse class="hl" cx="130" cy="225" rx="12" ry="9"/>
<circle class="hl" cx="340" cy="130" r="10"/>
<circle class="hl" cx="320" cy="235" r="10"/>
<circle class="hl" cx="430" cy="298" r="10"/>
<ellipse class="hl" cx="690" cy="165" rx="12" ry="9"/>
<circle class="hl" cx="720" cy="220" r="9"/>
<circle class="hl" cx="50" cy="385" r="10"/>
<ellipse class="hl" cx="155" cy="455" rx="9" ry="7"/>
<ellipse class="hl" cx="392" cy="432" rx="14" ry="10"/>
<circle class="hl" cx="625" cy="415" r="10"/>
<circle class="hl" cx="735" cy="482" r="9"/>
<circle class="hl" cx="350" cy="568" r="9"/>
<circle class="hl" cx="465" cy="630" r="11"/>
<ellipse class="hl" cx="655" cy="618" rx="12" ry="9"/>
<ellipse class="hl" cx="850" cy="672" rx="12" ry="14"/>
<circle class="hl" cx="80" cy="720" r="10"/>
<circle class="hl" cx="195" cy="785" r="9"/>
<ellipse class="hl" cx="335" cy="798" rx="12" ry="8"/>
<circle class="hl" cx="70" cy="868" r="9"/>
<ellipse class="hl" cx="610" cy="852" rx="10" ry="13"/>
<ellipse class="hl" cx="845" cy="905" rx="10" ry="16"/>
<circle class="hl" cx="800" cy="930" r="7"/>
<circle class="hl" cx="15" cy="980" r="9"/>
<ellipse class="hl" cx="75" cy="1060" rx="10" ry="16"/>
<ellipse class="hl" cx="965" cy="480" rx="32" ry="22"/>
</g>
<!-- HC: origin (470,740) s3.926 : cylinder head lower front -->
<g transform="translate(470,740) scale(0.25471)">
<path class="hd" d="M860,745 Q815,730 800,775 Q805,820 845,815 M830,830 L850,850 M770,705 L800,720 M745,745 L790,780 M850,670 L900,720 L960,700 M880,655 Q900,640 930,650 M880,800 L915,820 L950,790 L975,755 L1000,740 M940,775 L990,755 L995,770 L950,790 M830,850 L800,860 M770,865 L745,900 L700,925 L665,940"/>
<ellipse class="hl" cx="915" cy="795" rx="8" ry="12"/>
<ellipse class="hl" cx="780" cy="745" rx="6" ry="9"/>
</g>
<!-- HD: origin (470,740) s6.87 : head upper-left outline -->
<g transform="translate(470,740) scale(0.14556)">
<path class="hd" d="M800,605 L850,580 L900,520 L935,480 Q960,455 1000,460 L1050,465 L1100,440 L1140,415"/>
<ellipse class="hl" cx="985" cy="485" rx="14" ry="10"/>
<ellipse class="hl" cx="940" cy="520" rx="11" ry="14"/>
<path class="hd" d="M1190,390 L1235,355"/>
</g>
<!--PARTS_END-->
</g>

<!-- ===== LEADERS ===== -->
<g id="leaders" class="ld">
<path d="M296.7,198 L297,223 M442,192.4 L467,192.4 M562.6,144.6 L586.7,144.6 M634.8,246.8 L658.9,246.8 M581.3,346.3 L603.2,346.3 M470.5,403.1 L493.1,403.1 M737,368.9 L737,400.1 M805.5,423.4 L805.5,455 M876.6,450.5 L876.6,482.2 M303.2,397.8 L327.3,397.8 M680.5,483 L680.5,502.7 M626.8,541 L626.8,558.5 M767.1,560.7 L791.7,560.7 M998.7,191.7 L1031.5,191.7 M1101.4,191.6 L1119,191.6 L1119,255.9 L1028.1,255.9 M1119,221.6 L1138,221.6 M1021.2,335.5 L1052.6,335.5 M1086.4,383 L1118,383 M1031.5,430.4 L1062.9,430.4 M1025.2,519.8 L1057.7,519.8 M987,583.4 L1017.5,583.4 M1007.8,686.8 L1007.8,718.9 M1034.2,800.8 L1067,800.8 M1287.4,635.6 L1287.4,666.5"/>
</g>

<!-- ===== BOXES ===== -->
<rect x="69.3" y="69.9" width="110.8" height="34.8" fill="none" stroke="#000" stroke-width="2.3"/>
<rect x="1209.1" y="499.9" width="167.4" height="205" fill="none" stroke="#000" stroke-width="2"/>

<!-- ===== LABELS ===== -->
<g id="labels">
<text class="ss" transform="translate(76.6,95.2) scale(1,1.08)" font-size="18.6">W/HEATER</text>
<g transform="translate(237.1,185.6)"><path d="M-7.6,-7.6 L7.6,7.6 M7.6,-7.6 L-7.6,7.6" stroke="#000" stroke-width="1.4" fill="none"/><rect x="-1.15" y="-6.62" width="2.3" height="2.3"/><rect x="-1.15" y="4.32" width="2.3" height="2.3"/><rect x="-7.23" y="-1.15" width="2.3" height="2.3"/><rect x="4.93" y="-1.15" width="2.3" height="2.3"/></g><path d="M249,182.6 L253.3,179.2 L253.3,192.2" fill="none" stroke="#000" stroke-width="1.7"/>
<text class="pn" transform="translate(261.9,193.8) scale(1,1.25)">16264A</text>
<text class="pn" transform="translate(363.9,199.8) scale(1,1.25)">16264E</text>
<text class="pn" transform="translate(592.9,152.8) scale(1,1.25)">16261U</text>
<text class="pn" transform="translate(661.9,253.8) scale(1,1.25)">16264E</text>
<text class="pn" transform="translate(515.4,356.1) scale(1,1.25)">16279</text>
<text class="pn" transform="translate(497.7,411.0) scale(1,1.25)">16264</text>
<text class="pn" transform="translate(708.9,363.8) scale(1,1.25)">16261R</text>
<text class="pn" transform="translate(775.6,418.8) scale(1,1.25)">16268A</text>
<text class="pn" transform="translate(226.2,408.8) scale(1,1.25)">16264E</text>
<text class="pn" transform="translate(652.3,478.2) scale(1,1.25)">16261</text>
<text class="pn" transform="translate(597.4,579.8) scale(1,1.25)">16261R</text>
<text class="pn" transform="translate(795.9,570.5) scale(1,1.25)">16261R</text>
<text class="pn" transform="translate(846.9,447.3) scale(1,1.25)">16261R</text>
<text class="pn" transform="translate(1035.4,199.8) scale(1,1.25)">16417</text>
<text class="pn" transform="translate(1143.5,230.0) scale(1,1.25)">16264D</text>
<text class="pn" transform="translate(1057.0,343.2) scale(1,1.25)">16261R</text>
<text class="pn" transform="translate(1124.2,391.5) scale(1,1.25)">16581</text>
<text class="pn" transform="translate(1068.0,439.1) scale(1,1.25)">16261N</text>
<text class="pn" transform="translate(1061.9,527.5) scale(1,1.25)">16261R</text>
<text class="pn" transform="translate(1028.0,593.1) scale(1,1.25)">16278</text>
<text class="rf" transform="translate(966.6,656.2) scale(1,1.06)">REFER TO</text>
<text class="rf" transform="translate(966.6,678.2) scale(1,1.12)">FIG 11-04</text>
<text class="pn" transform="translate(1074.7,808.2) scale(1,1.25)">16264E</text>
<text class="pn" transform="translate(1257.6,689.2) scale(1,1.25)">16278</text>
<g transform="translate(1220,484.8)"><path d="M-7.6,-7.6 L7.6,7.6 M7.6,-7.6 L-7.6,7.6" stroke="#000" stroke-width="1.4" fill="none"/><rect x="-1.15" y="-6.62" width="2.3" height="2.3"/><rect x="-1.15" y="4.32" width="2.3" height="2.3"/><rect x="-7.23" y="-1.15" width="2.3" height="2.3"/><rect x="4.93" y="-1.15" width="2.3" height="2.3"/></g><path d="M1232.3,481.6 L1235.7,478.3 L1235.7,491.2" fill="none" stroke="#000" stroke-width="1.7"/>
<g transform="translate(1257,804)"><path d="M-7.8,-7.8 L7.8,7.8 M7.8,-7.8 L-7.8,7.8" stroke="#000" stroke-width="1.4" fill="none"/><rect x="-1.15" y="-6.77" width="2.3" height="2.3"/><rect x="-1.15" y="4.47" width="2.3" height="2.3"/><rect x="-7.39" y="-1.15" width="2.3" height="2.3"/><rect x="5.09" y="-1.15" width="2.3" height="2.3"/></g><path d="M1269.3,801.9 L1273,798.4 L1273,811.2" fill="none" stroke="#000" stroke-width="1.7"/><text class="ss" transform="translate(1282.6,811.4) scale(1,1.02)" font-size="18">MEXICO</text>
<text class="ss" transform="translate(43.6,1070.3) scale(1,1.03)" font-size="18">16F3</text>
<text class="ss" transform="translate(1496,1071.2) scale(1,1.12)" font-size="17.6">164672</text>
</g>
</svg>
</body>
</html>
